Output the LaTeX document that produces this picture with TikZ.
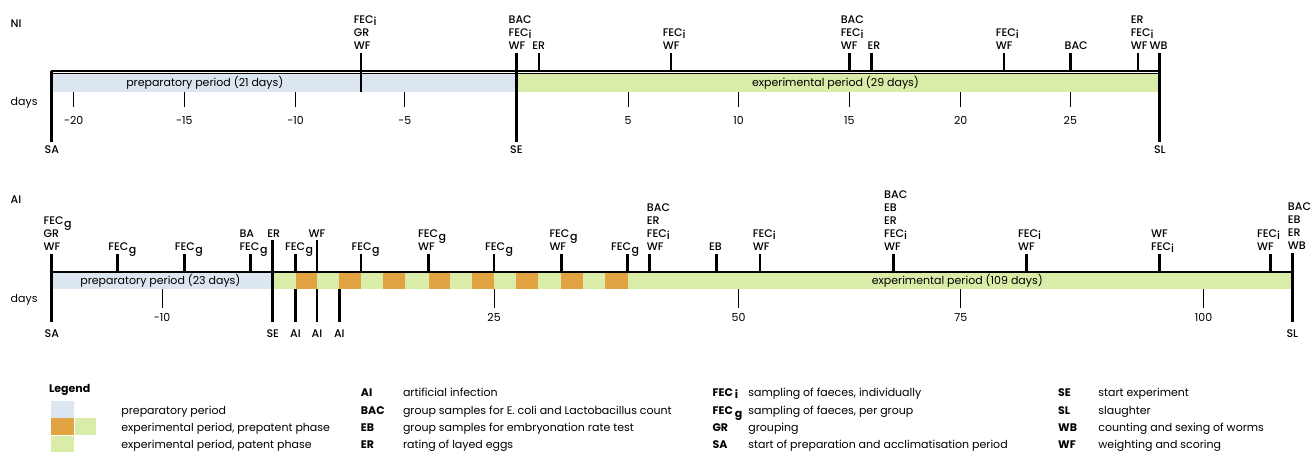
\documentclass[tikz,border=0pt]{standalone}
\usepackage{fontspec}
\setmainfont{Poppins}
\newfontfamily\medfont{Poppins Medium}
\definecolor{prepblue}{HTML}{DCE6F0}
\definecolor{expgreen}{HTML}{D9EDA9}
\definecolor{preorange}{HTML}{E2A443}
\newcommand\FECi{FEC\smash{\raisebox{-1.8pt}{i}}}
\newcommand\FECg{FEC\kern0.6pt\smash{\raisebox{-2.8pt}{g}}}
\tikzset{
  txt/.style={font=\fontsize{11}{12.9}\selectfont, inner sep=0pt},
  mtxt/.style={font=\fontsize{11}{12.9}\selectfont\medfont, inner sep=0pt},
  lab/.style={mtxt, align=left, text depth=0pt, anchor=south west},
  labm/.style={mtxt, anchor=base},
  labc/.style={txt, anchor=base},
  lft/.style={txt, anchor=base west},
  lftm/.style={mtxt, anchor=base west},
  evline/.style={line width=2.6pt},
  thinline/.style={line width=0.9pt},
  legb/.style={txt, anchor=base west, font=\fontsize{11}{12.9}\selectfont\bfseries},
}
\begin{document}
\begin{tikzpicture}[x=1pt,y=-1pt]
\useasboundingbox (0,0) rectangle (1311,453);

% ================= NI =================
\node[lftm] (niname) at (10.5,27.2) {NI};
\node[lft] (nidays) at (10.5,105) {days};

\fill[prepblue] (51.4,73.8) rectangle (516.4,91.7);
\fill[expgreen] (516.4,73.8) rectangle (1159.3,91.7);
\draw[line width=1.3pt] (51.4,71) -- (1159.3,71);
\draw[line width=0.7pt] (51.4,73.4) -- (1159.3,73.4);

\node[labc] (niprep) at (204.8,86.3) {preparatory period (21 days)};
\node[labc] (niexp) at (835.5,86.3) {experimental period (29 days)};

\foreach \x/\t/\n in {73.7/-20/a,184.4/-15/b,295.5/-10/c,404.9/-5/d,628/5/e,738.5/10/f,849.4/15/g,960.7/20/h,1070.3/25/i}{
  \draw[thinline] (\x,91.7) -- (\x,106.7);
  \node[labc] (nitick\n) at (\x,124) {\t};
}

% event ticks
\foreach \x in {538.8,671,849.4,871.3,1004.1,1070.3,1137.8}{
  \draw[evline] (\x,53.3) -- (\x,71);
}
\draw[evline] (361.1,53.3) -- (361.1,91.7);
\draw[evline] (51.4,71) -- (51.4,141.7);
\draw[evline] (516.4,53.3) -- (516.4,141.7);
\draw[evline] (1159.3,53.3) -- (1159.3,141.7);

\node[labm] (nisa) at (51.9,153.8) {SA};
\node[labm] (nise) at (516.4,153.8) {SE};
\node[labm] (nisl) at (1159.8,153.8) {SL};

\node[lab] (nie1) at (353.6,49.7) {\FECi\\GR\\WF};
\node[lab] (nie2) at (508.4,49.7) {BAC\\\FECi\\WF};
\node[labm] (nie3) at (538.8,49.7) {ER};
\node[lab] (nie4) at (662.6,49.7) {\FECi\\WF};
\node[lab] (nie5) at (840.6,49.7) {BAC\\\FECi\\WF};
\node[labm] (nie6) at (874,49.7) {ER};
\node[lab] (nie7) at (995.7,49.7) {\FECi\\WF};
\node[lab] (nie8) at (1064.4,49.7) {BAC};
\node[lab] (nie9) at (1130.6,49.7) {ER\\\FECi\\WF};
\node[labm] (nie10) at (1158.5,49.7) {WB};

% ================= AI =================
\node[lftm] (ainame) at (10.5,203.2) {AI};
\node[lft] (aidays) at (10.5,302.5) {days};

\fill[prepblue] (51.4,272.4) rectangle (272.7,289.3);
\fill[expgreen] (272.7,272.4) rectangle (1292.3,289.3);
\foreach \a/\b in {295.5/317,339.3/361.1,383/405,428.5/450,472.2/494.1,516.4/538,561/583,604.8/627.6}{
  \fill[preorange] (\a,272.4) rectangle (\b,289.3);
}
\draw[line width=1.6pt] (51.4,271.7) -- (1292.3,271.7);

\node[labc] (aiprep) at (160.4,284.3) {preparatory period (23 days)};
\node[labc] (aiexp) at (957.3,284.3) {experimental period (109 days)};

\foreach \x/\t/\n in {162/-10/a,494.1/25/b,738.5/50/c,960.7/75/d,1203.6/100/e}{
  \draw[thinline] (\x,289.3) -- (\x,308.3);
  \node[labc] (aitick\n) at (\x,321.2) {\t};
}

% event ticks
\foreach \x in {117.4,184.4,250.7,295.5,361.1,428.5,494.1,561.5,627.6,649.3,716.7,760,893.3,1026.5,1159.3,1270.3}{
  \draw[evline] (\x,254) -- (\x,271.7);
}
\draw[evline] (317,240) -- (317,271.7);
\draw[evline] (51.4,254) -- (51.4,321.7);
\draw[evline] (272.7,240) -- (272.7,321.7);
\draw[evline] (1292.3,253.3) -- (1292.3,321.7);
\foreach \x in {295.5,317,339.3}{
  \draw[evline] (\x,289.3) -- (\x,321.7);
}

\node[labm] (aisa) at (51.9,337) {SA};
\node[labm] (aise) at (272.7,337) {SE};
\node[labm] (aiai1) at (295.5,337) {AI};
\node[labm] (aiai2) at (317,337) {AI};
\node[labm] (aiai3) at (339.3,337) {AI};
\node[labm] (aisl) at (1292.3,337) {SL};

\node[lab] (aie1) at (43.4,250.5) {\FECg\\GR\\WF};
\node[lab] (aie2) at (108.2,250.5) {\FECg};
\node[lab] (aie3) at (174.7,250.5) {\FECg};
\node[lab] (aie4) at (239.3,250.5) {BA\\\FECg};
\node[labm] (aie5) at (273.7,237.8) {ER};
\node[lab] (aie6) at (285,250.5) {\FECg};
\node[labm] (aie7) at (317,237.8) {WF};
\node[lab] (aie8) at (351.5,250.5) {\FECg};
\node[lab] (aie9) at (418,250.5) {\FECg\\WF};
\node[lab] (aie10) at (484.9,250.5) {\FECg};
\node[lab] (aie11) at (549.3,250.5) {\FECg\\WF};
\node[lab] (aie12) at (611,250.5) {\FECg};
\node[lab] (aie13) at (646.7,250.5) {BAC\\ER\\\FECi\\WF};
\node[labm] (aie14) at (715.5,250.5) {EB};
\node[lab] (aie15) at (752.7,250.5) {\FECi\\WF};
\node[lab] (aie16) at (884,250.5) {BAC\\EB\\ER\\\FECi\\WF};
\node[lab] (aie17) at (1018,250.5) {\FECi\\WF};
\node[lab] (aie18) at (1150.9,250.5) {WF\\\FECi};
\node[lab] (aie19) at (1257,250.5) {\FECi\\WF};
\node[lab] (aie20) at (1287.7,249.5) {BAC\\EB\\ER\\WB};

% ================= Legend =================
\node[legb] (legtitle) at (49,392) {Legend};
\fill[prepblue] (51.4,401) rectangle (74,417.6);
\fill[preorange] (51.4,418.2) rectangle (74,434.9);
\fill[expgreen] (74.5,418.2) rectangle (96,434.9);
\fill[expgreen] (51.4,435.5) rectangle (74,452.2);
\node[lft] (legp) at (121.2,414.5) {preparatory period};
\node[lft] (legpp) at (121.2,431.2) {experimental period, prepatent phase};
\node[lft] (legep) at (121.2,448.9) {experimental period, patent phase};

\node[legb] (kai) at (360.7,396.6) {AI};
\node[legb] (kbac) at (360.7,414.5) {BAC};
\node[legb] (keb) at (360.7,431.2) {EB};
\node[legb] (ker) at (360.7,448.9) {ER};
\node[lft] (dai) at (402.8,396.6) {artificial infection};
\node[lft] (dbac) at (402.8,414.5) {group samples for E. coli and Lactobacillus count};
\node[lft] (deb) at (402.8,431.2) {group samples for embryonation rate test};
\node[lft] (der) at (402.8,448.9) {rating of layed eggs};

\node[legb] (kfeci) at (712.4,396.6) {FEC\kern2pt\smash{\raisebox{-1.8pt}{i}}};
\node[legb] (kfecg) at (712.4,414.5) {FEC\kern2pt\smash{\raisebox{-2.8pt}{g}}};
\node[legb] (kgr) at (712.4,431.2) {GR};
\node[legb] (ksa) at (712.4,448.9) {SA};
\node[lft] (dfeci) at (748.2,396.6) {sampling of faeces, individually};
\node[lft] (dfecg) at (748.2,414.5) {sampling of faeces, per group};
\node[lft] (dgr) at (748.2,431.2) {grouping};
\node[lft] (dsa) at (748.2,448.9) {start of preparation and acclimatisation period};

\node[legb] (kse) at (1058,396.6) {SE};
\node[legb] (ksl) at (1058,414.5) {SL};
\node[legb] (kwb) at (1058,431.2) {WB};
\node[legb] (kwf) at (1058,448.9) {WF};
\node[lft] (dse) at (1098.2,396.6) {start experiment};
\node[lft] (dsl) at (1098.2,414.5) {slaughter};
\node[lft] (dwb) at (1098.2,431.2) {counting and sexing of worms};
\node[lft] (dwf) at (1098.2,448.9) {weighting and scoring};
\end{tikzpicture}
\end{document}
